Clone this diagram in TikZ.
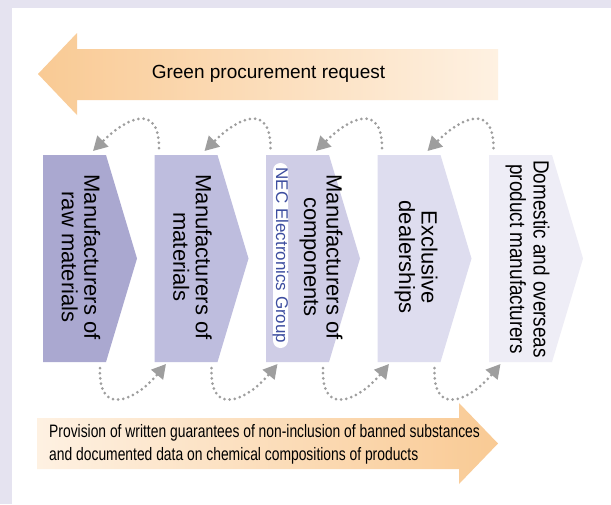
\documentclass[tikz,border=0pt]{standalone}
\usepackage{fontspec}
\setmainfont{Liberation Sans}
\newfontfamily\narrowfont[FakeStretch=0.86]{Liberation Sans}
\newfontfamily\condfont[FakeStretch=0.77]{Liberation Sans}
\usetikzlibrary{arrows.meta}
\definecolor{bgl}{RGB}{229,227,240}
\definecolor{boxa}{RGB}{170,168,208}
\definecolor{boxb}{RGB}{190,189,222}
\definecolor{boxc}{RGB}{207,205,230}
\definecolor{boxd}{RGB}{222,221,239}
\definecolor{boxe}{RGB}{238,237,246}
\definecolor{orgdark}{RGB}{249,202,148}
\definecolor{orglight}{RGB}{254,241,226}
\definecolor{dotc}{RGB}{158,158,158}
\definecolor{necblue}{RGB}{62,78,160}
\tikzset{
  boxtext/.style={rotate=-90, align=center, inner sep=0pt, font=\fontsize{22}{22.5}\selectfont},
  dotarc/.style={draw=dotc, line width=3pt, dash pattern=on 0pt off 5.2pt, line cap=round,
     -{Triangle[length=14pt,width=15pt,fill=dotc,color=dotc]}},
  pill/.style={rotate=-90, fill=white, rounded corners=7.5pt, inner xsep=0pt, inner ysep=0pt,
     text height=12pt, text depth=3pt, minimum width=185pt, text=necblue,
     font=\fontsize{17}{17}\selectfont}
}
\begin{document}
\begin{tikzpicture}[x=1pt,y=-1pt]
\useasboundingbox (0,0) rectangle (611,504);
\fill[bgl] (0,0) rectangle (611,504);
\fill[white] (12,8) rectangle (611,504);

% top arrow
\shade[left color=orgdark, right color=orglight]
  (498,49) -- (77,49) -- (77,33) -- (38,74) -- (77,115) -- (77,100) -- (498,100) -- cycle;
\node[inner sep=0pt, font=\fontsize{19}{19}\selectfont] (req) at (268.5,74) {Green procurement request};

% bottom arrow
\shade[left color=orglight, right color=orgdark]
  (37,418) -- (459,418) -- (459,403) -- (498,443.5) -- (459,484) -- (459,469) -- (37,469) -- cycle;
\node[anchor=west, inner sep=0pt, align=left, font=\condfont\fontsize{18}{23}\selectfont] (prov) at (49,444)
  {Provision of written guarantees of non-inclusion of banned substances\\and documented data on chemical compositions of products};

% boxes
\foreach \L/\c in {43/boxa,154.5/boxb,266/boxc,377.5/boxd,489/boxe}{
  \fill[\c] (\L,155) -- (\L+63,155) -- (\L+94,258.5) -- (\L+63,362) -- (\L,362) -- cycle;
}
\node[boxtext] (b1) at (81,257) {Manufacturers of\\raw materials};
\node[boxtext] (b2) at (192.5,257) {Manufacturers of\\materials};
\node[boxtext] (b3) at (321,257) {Manufacturers of\\components};
\node[pill] (nec) at (280.5,255.5) {NEC Electronics Group};
\node[boxtext] (b4) at (416,257) {Exclusive\\dealerships};
\node[boxtext, font=\narrowfont\fontsize{22}{23.5}\selectfont] (b5) at (527.5,259) {Domestic and overseas\\product manufacturers};

% arcs
\foreach \i in {0,1,2,3}{
  \coordinate (ts\i) at (159+111.5*\i,148);
  \coordinate (te\i) at (93+111.5*\i,151);
  \coordinate (bs\i) at (100+111.5*\i,368);
  \coordinate (be\i) at (166+111.5*\i,364);
  \draw[dotarc] (ts\i) .. controls +(0,-46) and +(33,-33) .. (te\i);
  \draw[dotarc] (bs\i) .. controls +(-2,50) and +(-30,36) .. (be\i);
}
\end{tikzpicture}
\end{document}
